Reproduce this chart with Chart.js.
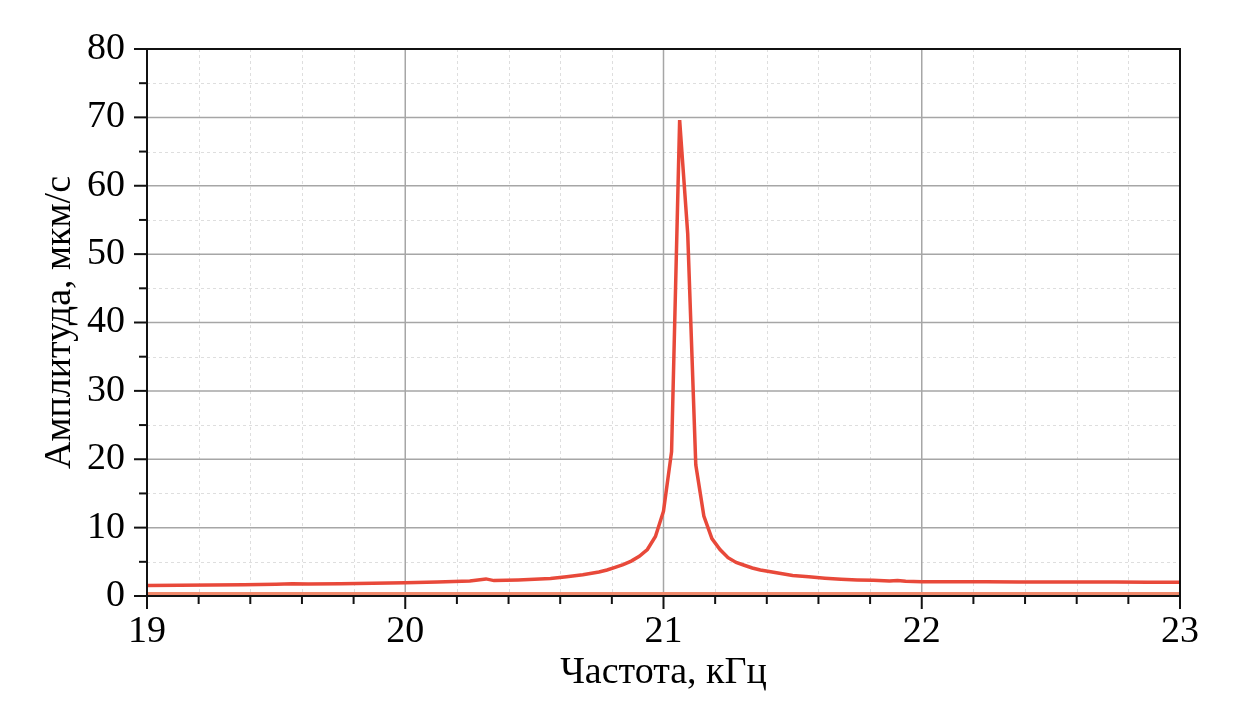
<!DOCTYPE html>
<html>
<head>
<meta charset="utf-8">
<script src="https://cdn.jsdelivr.net/npm/chart.js@4.4.0/dist/chart.umd.min.js"></script>
<style>
  html, body { margin: 0; padding: 0; background: #fff; }
  #wrap { width: 1237px; height: 718px; }
</style>
</head>
<body>
<div id="wrap"><canvas id="chart" width="1237" height="718"></canvas></div>
<script>
// spectrum, kHz / um/s
const freqs = [
  19.0, 19.125, 19.25, 19.375, 19.5, 19.5625, 19.625, 19.75, 19.875,
  20.0, 20.125, 20.25, 20.3125, 20.34375, 20.4375, 20.5, 20.5625, 20.625, 20.6875,
  20.75, 20.78125, 20.8125, 20.84375, 20.875, 20.90625, 20.9375, 20.96875,
  21.0, 21.03125, 21.0625, 21.09375, 21.125, 21.15625, 21.1875, 21.21875,
  21.25, 21.28125, 21.3125, 21.34375, 21.375, 21.4375, 21.5, 21.5625, 21.625,
  21.6875, 21.75, 21.8125, 21.875, 21.90625, 21.9375, 22.0, 22.125, 22.25,
  22.375, 22.5, 22.625, 22.75, 22.875, 23.0
];
const amplitude = [
  1.55, 1.58, 1.62, 1.65, 1.72, 1.78, 1.74, 1.8, 1.85,
  1.95, 2.05, 2.2, 2.5, 2.25, 2.35, 2.45, 2.55, 2.8, 3.1,
  3.5, 3.8, 4.2, 4.6, 5.1, 5.8, 6.8, 8.7,
  12.4, 21.1, 69.6, 53.0, 19.2, 11.7, 8.4, 6.8,
  5.6, 4.9, 4.5, 4.1, 3.8, 3.4, 3.0, 2.8, 2.6,
  2.45, 2.35, 2.3, 2.2, 2.28, 2.15, 2.1, 2.1, 2.1,
  2.05, 2.05, 2.05, 2.05, 2.0, 2.0
];
// lower (background) trace
const floorFreqs = [19, 20, 21, 22, 23];
const floorAmplitude = [0.35, 0.35, 0.35, 0.35, 0.35];

const xMajorTicks = [19, 20, 21, 22, 23];
const yMajorTicks = [0, 10, 20, 30, 40, 50, 60, 70, 80];
const xMinorStep = 0.2;
const yMinorStep = 5;

const serif = "'Liberation Serif', 'Times New Roman', serif";

// grid, frame and outward tick marks drawn through the chart's scales
const framePlugin = {
  id: 'frame',
  beforeDatasetsDraw(chart) {
    const { ctx, chartArea: a, scales: { x, y } } = chart;
    ctx.save();
    // minor dashed grid
    ctx.strokeStyle = '#dedede';
    ctx.lineWidth = 1;
    ctx.setLineDash([3, 3]);
    for (let v = x.min; v <= x.max + 1e-9; v += xMinorStep) {
      if (Math.abs(v - Math.round(v)) < 1e-6) continue;
      const px = Math.round(x.getPixelForValue(v)) + 0.5;
      ctx.beginPath(); ctx.moveTo(px, a.top); ctx.lineTo(px, a.bottom); ctx.stroke();
    }
    for (let v = y.min; v <= y.max + 1e-9; v += yMinorStep) {
      if (v % 10 === 0) continue;
      const py = Math.round(y.getPixelForValue(v)) + 0.5;
      ctx.beginPath(); ctx.moveTo(a.left, py); ctx.lineTo(a.right, py); ctx.stroke();
    }
    // major solid grid
    ctx.setLineDash([]);
    ctx.strokeStyle = '#a6a6a6';
    ctx.lineWidth = 1.5;
    xMajorTicks.forEach(v => {
      const px = x.getPixelForValue(v);
      ctx.beginPath(); ctx.moveTo(px, a.top); ctx.lineTo(px, a.bottom); ctx.stroke();
    });
    yMajorTicks.forEach(v => {
      const py = y.getPixelForValue(v);
      ctx.beginPath(); ctx.moveTo(a.left, py); ctx.lineTo(a.right, py); ctx.stroke();
    });
    ctx.restore();
  },
  afterDatasetsDraw(chart) {
    const { ctx, chartArea: a, scales: { x, y } } = chart;
    ctx.save();
    ctx.strokeStyle = '#111';
    ctx.lineWidth = 2;
    ctx.strokeRect(a.left, a.top, a.right - a.left, a.bottom - a.top);
    // x ticks
    for (let v = x.min; v <= x.max + 1e-9; v += xMinorStep) {
      const major = Math.abs(v - Math.round(v)) < 1e-6;
      const px = x.getPixelForValue(v);
      ctx.beginPath(); ctx.moveTo(px, a.bottom); ctx.lineTo(px, a.bottom + (major ? 13 : 8)); ctx.stroke();
    }
    // y ticks
    for (let v = y.min; v <= y.max + 1e-9; v += yMinorStep) {
      const major = v % 10 === 0;
      const py = y.getPixelForValue(v);
      ctx.beginPath(); ctx.moveTo(a.left, py); ctx.lineTo(a.left - (major ? 13 : 8), py); ctx.stroke();
    }
    ctx.restore();
  }
};

new Chart(document.getElementById('chart'), {
  type: 'line',
  data: {
    datasets: [
      {
        data: freqs.map((f, i) => ({ x: f, y: amplitude[i] })),
        borderColor: '#e8493a',
        borderWidth: 3.5,
        pointRadius: 0,
        tension: 0,
        fill: false
      },
      {
        data: floorFreqs.map((f, i) => ({ x: f, y: floorAmplitude[i] })),
        borderColor: '#f08a6c',
        borderWidth: 3,
        pointRadius: 0,
        fill: false
      }
    ]
  },
  options: {
    responsive: false,
    animation: false,
    devicePixelRatio: 1,
    layout: { padding: { top: 49, right: 57, left: 0, bottom: 0 } },
    plugins: { legend: { display: false }, tooltip: { enabled: false } },
    scales: {
      x: {
        type: 'linear',
        min: 19,
        max: 23,
        afterFit(scale) { scale.height = 122; },
        afterBuildTicks(scale) { scale.ticks = xMajorTicks.map(v => ({ value: v })); },
        grid: { display: false, drawTicks: false },
        border: { display: false },
        ticks: {
          color: '#000',
          font: { family: serif, size: 38 },
          padding: 13,
          maxRotation: 0
        },
        title: {
          display: true,
          text: 'Частота, кГц',
          color: '#000',
          font: { family: serif, size: 38 },
          padding: { top: 0, bottom: 22 }
        }
      },
      y: {
        min: 0,
        max: 80,
        afterFit(scale) { scale.width = 147; },
        afterBuildTicks(scale) { scale.ticks = yMajorTicks.map(v => ({ value: v })); },
        grid: { display: false, drawTicks: false },
        border: { display: false },
        ticks: {
          color: '#000',
          font: { family: serif, size: 38 },
          padding: 22
        },
        title: {
          display: true,
          text: 'Амплитуда, мкм/с',
          color: '#000',
          font: { family: serif, size: 38 },
          padding: { top: 37, bottom: 0 }
        }
      }
    }
  },
  plugins: [framePlugin]
});
</script>
</body>
</html>
